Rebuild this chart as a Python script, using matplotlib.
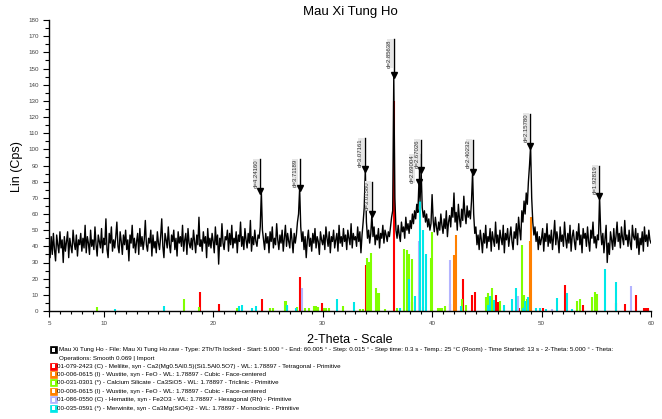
"""
XRD pattern of sample Mau Xi Tung Ho with reference stick patterns (Co K-alpha)
"""

import numpy as np
import matplotlib.pyplot as plt
from matplotlib.patches import Rectangle

plt.rcParams['font.family'] = ['Liberation Sans', 'DejaVu Sans']

#################################
# Data        #
#################################

# measured counts, 2-theta 5.0 .. 60.0 in 0.1 deg steps (one row per degree)
counts = [
    40, 33, 46, 35, 48, 38, 31, 47, 41, 36,
    49, 39, 44, 30, 46, 37, 43, 49, 33, 45,
    40, 36, 50, 42, 38, 47, 34, 44, 41, 48,
    37, 45, 39, 53, 36, 46, 42, 35, 50, 40,
    44, 38, 52, 41, 34, 47, 43, 39, 51, 36,
    45, 41, 57, 38, 33, 48, 42, 52, 37, 44,
    39, 46, 55, 40, 36, 49, 43, 35, 47, 41,
    50, 38, 44, 31, 47, 42, 53, 39, 45, 36,
    43, 48, 35, 51, 40, 46, 38, 44, 56, 41,
    37, 45, 42, 50, 34, 47, 39, 43, 36, 49,
    42, 38, 46, 57, 40, 33, 48, 44, 39, 52,
    41, 36, 47, 43, 50, 38, 45, 34, 49, 42,
    46, 40, 53, 37, 44, 48, 35, 51, 42, 39,
    45, 38, 50, 43, 36, 47, 41, 58, 40, 44,
    37, 49, 42, 46, 33, 51, 40, 45, 39, 48,
    43, 36, 52, 41, 47, 29, 45, 40, 54, 42,
    38, 46, 44, 50, 37, 48, 41, 53, 39, 45,
    42, 49, 36, 47, 43, 55, 40, 46, 38, 51,
    44, 39, 48, 42, 56, 37, 46, 41, 50, 43,
    40, 47, 45, 52, 74, 50, 44, 38, 48, 42,
    46, 36, 49, 43, 52, 39, 45, 41, 54, 44,
    38, 47, 42, 50, 37, 45, 53, 40, 48, 43,
    39, 51, 44, 36, 48, 42, 47, 55, 60, 76,
    52, 43, 49, 38, 46, 33, 44, 50, 40, 45,
    37, 48, 42, 51, 39, 46, 43, 35, 49, 44,
    41, 47, 38, 52, 45, 40, 49, 36, 46, 43,
    50, 39, 44, 48, 37, 53, 42, 46, 40, 51,
    43, 47, 38, 50, 45, 41, 54, 39, 48, 44,
    46, 40, 52, 43, 49, 36, 47, 55, 64, 88,
    55, 45, 50, 42, 48, 60, 46, 52, 41, 47,
    44, 51, 39, 48, 45, 53, 42, 50, 47, 43,
    49, 46, 52, 58, 62, 146, 70, 50, 45, 53,
    47, 43, 55, 49, 52, 45, 58, 50, 54, 48,
    56, 51, 60, 54, 62, 57, 66, 61, 80, 68,
    87, 64, 58, 62, 55, 60, 52, 57, 50, 54,
    72, 56, 49, 58, 52, 47, 55, 50, 60, 53,
    48, 57, 51, 62, 46, 55, 59, 52, 64, 58,
    73, 55, 61, 50, 66, 57, 52, 63, 56, 71,
    60, 54, 65, 58, 62, 57, 68, 86, 60, 48,
    52, 41, 47, 38, 50, 44, 36, 48, 42, 53,
    39, 46, 43, 51, 37, 49, 44, 40, 55, 42,
    47, 38, 50, 45, 41, 53, 36, 48, 44, 51,
    40, 46, 52, 43, 38, 49, 45, 54, 41, 58,
    50, 44, 62, 55, 68, 60, 73, 66, 80, 90,
    102, 70, 55, 47, 52, 43, 49, 38, 46, 41,
    45, 51, 37, 48, 43, 54, 40, 47, 42, 50,
    38, 46, 56, 41, 49, 44, 36, 52, 43, 47,
    40, 55, 45, 39, 48, 42, 53, 37, 46, 50,
    43, 38, 49, 44, 54, 41, 47, 36, 51, 45,
    48, 40, 52, 43, 37, 50, 45, 55, 42, 46,
    39, 47, 44, 71, 50, 41, 48, 36, 45, 53,
    30, 42, 35, 49, 44, 38, 51, 40, 46, 55,
    43, 48, 39, 52, 45, 41, 56, 44, 47, 40,
    50, 42, 38, 53, 46, 44, 51, 39, 48, 35,
    45, 41, 49, 37, 52, 43, 47, 40, 50, 44,
    42,
]
two_theta = np.linspace(5, 60, len(counts))

# labelled peaks
peak_pos = [24.32, 27.89, 33.86, 34.50, 36.50, 38.80, 39.03, 43.72, 48.98, 55.28]
peak_cps = [74, 76, 88, 60, 146, 80, 87, 86, 102, 71]
label_top = [94, 94, 107, 80, 168, 97, 106, 106, 122, 90]
peak_labels = ['d=4.24160', 'd=3.71189', 'd=3.07161', 'd=3.01580', 'd=2.85638',
               'd=2.69004', 'd=2.67026', 'd=2.40232', 'd=2.15780', 'd=1.92819']
label_shift = [-1.2, -1.2, -1.2, -1.2, -1.2, -3.2, -1.2, -1.2, -1.2, -1.2]

# reference stick patterns
melilite_pos = [18.8, 20.5, 24.48, 26.76, 27.9, 29.9, 33.92, 36.53, 38.15, 41.6, 42.84,
                43.63, 43.88, 45.82, 46.0, 47.9, 50.14, 52.1, 53.8, 54.98, 56.84, 57.67,
                58.67, 59.35, 59.55, 59.75]
melilite_h = [11.7, 4.5, 7.6, 3, 20.8, 4.7, 28.4, 130, 5.5, 4.3, 20,
              10, 11.7, 10, 5.5, 2, 2, 16, 3.7, 8, 5, 4.4,
              10, 2, 2, 2]

wustite1_pos = [42.0, 48.96]
wustite1_h = [34.6, 43]

silicate_pos = [9.35, 17.36, 18.7, 22.2, 25.2, 25.5, 26.55, 26.67, 27.7, 28.4, 28.77,
                29.2, 29.4, 29.56, 30.1, 30.35, 30.6, 31.85, 33.4, 33.7, 34.07, 34.22,
                34.42, 34.9, 35.05, 35.15, 35.7, 36.75, 37.45, 37.72, 37.9, 38.12, 39.2,
                39.88, 40.0, 40.55, 40.7, 40.9, 41.16, 42.69, 43.08, 44.97, 45.15, 45.48,
                46.19, 48.17, 48.44, 48.65, 53.28, 53.55, 54.62, 54.9, 55.07]
silicate_h = [2.5, 7.4, 2.5, 2, 2, 2, 6.4, 6, 2.5, 2, 2,
              3, 3, 2.5, 2, 2, 2, 3, 1, 1, 33, 30.5,
              35.7, 14.4, 11, 11.4, 1, 2, 38.5, 38, 35, 32, 2.5,
              32.7, 49, 2, 2, 2, 3, 7.4, 4, 8.7, 11.3, 14,
              6, 40.8, 10, 7.4, 6, 7.2, 8.7, 11.6, 10.4]

wustite2_pos = [42.17, 49.08]
wustite2_h = [47, 58]

hematite_pos = [28.1, 38.76, 41.6, 47.83, 51.0, 58.13]
hematite_h = [14.4, 43, 31.5, 9, 1, 15.5]

merwinite_pos = [11.0, 15.5, 22.38, 22.6, 23.57, 23.9, 26.7, 27.55, 31.27, 32.85, 37.05,
                 37.88, 38.42, 38.9, 39.13, 39.43, 42.6, 45.15, 45.33, 45.64, 46.55, 47.31,
                 47.68, 48.26, 48.53, 48.77, 49.48, 49.84, 50.45, 51.42, 52.28, 52.76,
                 55.8, 56.84]
merwinite_h = [1.5, 3.1, 3, 4, 2, 3, 4, 2, 7.4, 5.5, 2,
               20, 9.5, 68, 50, 35, 3, 4, 9, 7, 4, 7.4,
               14.4, 2, 6, 8.7, 2, 2, 1, 7.8, 11, 1,
               26, 18]

scan_info = ('Mau Xi Tung Ho - File: Mau Xi Tung Ho.raw - Type: 2Th/Th locked - Start: 5.000 \u00b0 - '
             'End: 60.005 \u00b0 - Step: 0.015 \u00b0 - Step time: 0.3 s - Temp.: 25 \u00b0C (Room) - '
             'Time Started: 13 s - 2-Theta: 5.000 \u00b0 - Theta:')
operations = 'Operations: Smooth 0.069 | Import'
card_names = [
    '01-079-2423 (C) - Melilite, syn - Ca2(Mg0.5Al0.5)(Si1.5Al0.5O7) - WL: 1.78897 - Tetragonal - Primitive',
    '00-006-0615 (I) - Wustite, syn - FeO - WL: 1.78897 - Cubic - Face-centered',
    '00-031-0301 (*) - Calcium Silicate - Ca3SiO5 - WL: 1.78897 - Triclinic - Primitive',
    '00-006-0615 (I) - Wustite, syn - FeO - WL: 1.78897 - Cubic - Face-centered',
    '01-086-0550 (C) - Hematite, syn - Fe2O3 - WL: 1.78897 - Hexagonal (Rh) - Primitive',
    '00-035-0591 (*) - Merwinite, syn - Ca3Mg(SiO4)2 - WL: 1.78897 - Monoclinic - Primitive',
]
card_colors = ['#ff0000', '#ff8000', '#80ff00', '#ff8000', '#b4b4ff', '#00e8e8']

#################################

W, H = 662, 419
fig = plt.figure(figsize=(W / 100, H / 100), dpi=100)
fig.set_facecolor('white')
ax = fig.add_axes([49 / W, 108 / H, 602 / W, 291 / H])

sticks = [(melilite_pos, melilite_h), (wustite1_pos, wustite1_h), (silicate_pos, silicate_h),
          (wustite2_pos, wustite2_h), (hematite_pos, hematite_h), (merwinite_pos, merwinite_h)]
for (pos, h), col in zip(sticks, card_colors):
    ax.vlines(pos, 0, h, colors=col, lw=1.5, zorder=2)

ax.plot(two_theta, counts, color='black', lw=1.0, zorder=3)

# d-spacing markers
for x, y, top, lab, dx in zip(peak_pos, peak_cps, label_top, peak_labels, label_shift):
    ax.plot([x, x], [y, top], color='black', lw=1.0, zorder=4)
    ax.plot(x, y, marker='v', color='black', ms=4, zorder=5)
    ax.annotate(lab, xy=(x, top), xytext=(dx, 0), textcoords='offset points',
                rotation=90, ha='right', va='top', fontsize=4.3, color='#333333',
                bbox=dict(facecolor='#e6e6e6', edgecolor='none', pad=0.3), zorder=4)

ax.set_xlim(5, 60)
ax.set_ylim(0, 180)
ax.set_xticks([5, 10, 20, 30, 40, 50, 60])
ax.set_xticks(np.arange(5, 61, 1), minor=True)
ax.set_yticks(np.arange(0, 181, 10))
ax.set_yticks(np.arange(5, 180, 10), minor=True)
ax.tick_params(axis='both', which='both', direction='out', width=0.8, labelsize=4.5,
               labelcolor='#444444')
ax.tick_params(axis='y', which='major', length=4.5, pad=3)
ax.tick_params(axis='y', which='minor', length=3)
ax.tick_params(axis='x', which='major', length=4, pad=3)
ax.tick_params(axis='x', which='minor', length=2)
for side in ['top', 'right']:
    ax.spines[side].set_visible(False)
for side in ['left', 'bottom']:
    ax.spines[side].set_linewidth(1.0)

fig.text(350 / W, 1 - 12 / H, 'Mau Xi Tung Ho', ha='center', va='center', fontsize=9.5)
fig.text(350 / W, 1 - 340 / H, '2-Theta - Scale', ha='center', va='center', fontsize=9)
fig.text(17 / W, 1 - 167 / H, 'Lin (Cps)', ha='center', va='center', rotation=90, fontsize=9)

# legend block under the plot
def add_icon(ypix, color, inner='white'):
    fig.patches.append(Rectangle((50 / W, 1 - (ypix + 3.5) / H), 7 / W, 7 / H,
                                 transform=fig.transFigure, facecolor=color,
                                 edgecolor=color, lw=0.5))
    fig.patches.append(Rectangle((52 / W, 1 - (ypix + 2) / H), 3 / W, 4 / H,
                                 transform=fig.transFigure, facecolor=inner,
                                 edgecolor='none'))

add_icon(349.7, 'black')
fig.text(59 / W, 1 - 349.7 / H, scan_info, ha='left', va='center', fontsize=4.5)
fig.text(59 / W, 1 - 358.3 / H, operations, ha='left', va='center', fontsize=4.5)
for i, (name, col) in enumerate(zip(card_names, card_colors)):
    y = 366 + i * 8.4
    add_icon(y, col)
    fig.text(57 / W, 1 - y / H, name, ha='left', va='center', fontsize=4.5)

plt.savefig('out.png', dpi=100)
plt.close()
